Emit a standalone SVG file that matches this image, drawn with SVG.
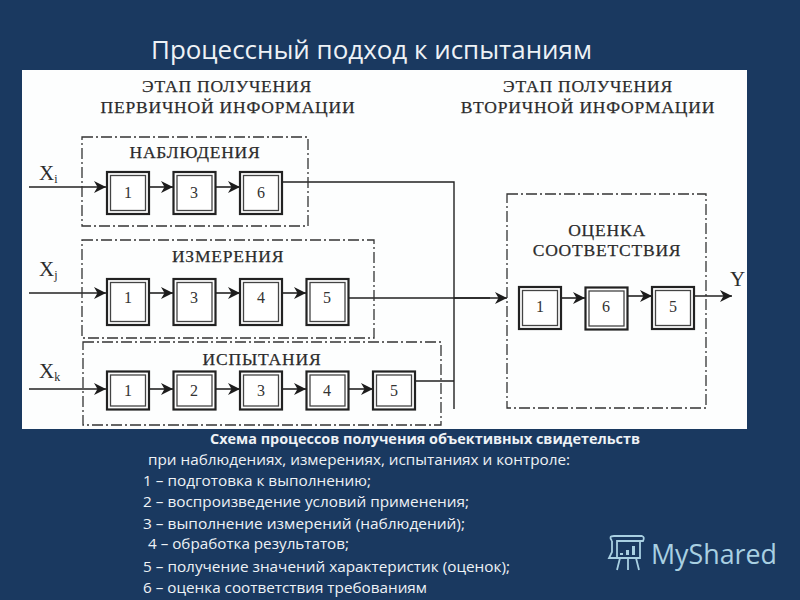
<svg xmlns="http://www.w3.org/2000/svg" width="800" height="600" viewBox="0 0 800 600">
<style>
.ser{font-family:"Liberation Serif","Noto Sans",serif;fill:#2c2c2c}
.h{font-size:17.5px;text-anchor:middle;letter-spacing:.8px;stroke:#2c2c2c;stroke-width:.25}
.n{font-size:16px;text-anchor:middle;fill:#333}
.x{font-size:21px}
.sub{font-size:12px}
.dash{fill:none;stroke:#333;stroke-width:1.3;stroke-dasharray:11 3 2 3}
.o{fill:#fff;stroke:#222;stroke-width:2.2}
.i{fill:#fff;stroke:#444;stroke-width:1.3}
.c{fill:none;stroke:#222;stroke-width:1.4}
.c2{fill:none;stroke:#222;stroke-width:1.6;marker-end:url(#a)}
.cap{font-family:"Open Sans","Noto Sans",sans-serif;font-size:14.6px;fill:#eef2f6}
.l{fill:none;stroke:#a9d0e2;stroke-width:1.8}
</style>
<defs>
<marker id="a" markerUnits="userSpaceOnUse" markerWidth="14" markerHeight="14" refX="13" refY="7" orient="auto">
<path d="M1 1 L13 7 L1 13 L4.500 7 Z" fill="#1c1c1c"/>
</marker>
<g id="box"><rect class="o" x="0" y="0" width="42" height="42"/><rect class="i" x="3.500" y="3.500" width="35" height="35"/></g>
<g id="tall"><rect class="o" x="0" y="0" width="42" height="46"/><rect class="i" x="3.500" y="3.500" width="35" height="39"/></g>
<g id="low"><rect class="o" x="0" y="0" width="42" height="38"/><rect class="i" x="3.500" y="3.500" width="35" height="31"/></g>
</defs>
<rect width="800" height="600" fill="#1a3960"/>
<text x="151" y="59" font-family="Open Sans,Noto Sans,sans-serif" font-size="25" fill="#eef2f6" textLength="441" lengthAdjust="spacingAndGlyphs">Процессный подход к испытаниям</text>
<rect x="22" y="70" width="725" height="359" fill="#fdfefe"/>
<text class="ser h" x="227" y="92">ЭТАП ПОЛУЧЕНИЯ</text>
<text class="ser h" x="228" y="113">ПЕРВИЧНОЙ ИНФОРМАЦИИ</text>
<text class="ser h" x="588" y="92">ЭТАП ПОЛУЧЕНИЯ</text>
<text class="ser h" x="588" y="113">ВТОРИЧНОЙ ИНФОРМАЦИИ</text>

<g id="connectors">
<path class="c" d="M283 182H454V409M348 298H490M416 381H454"/>
<path class="c2" d="M454 298H507"/>
<path class="c2" d="M29 187H106"/><path class="c2" d="M149 187H173"/><path class="c2" d="M216 187H240"/>
<path class="c2" d="M29 293H106"/><path class="c2" d="M149 293H173"/><path class="c2" d="M216 293H240"/><path class="c2" d="M283 293H306"/>
<path class="c2" d="M29 389H106"/><path class="c2" d="M149 389H173"/><path class="c2" d="M216 389H240"/><path class="c2" d="M283 389H306"/><path class="c2" d="M349 389H373"/>
<path class="c2" d="M561 298H585"/><path class="c2" d="M628 296H652"/><path class="c2" d="M694 296H732"/>
</g>

<g id="stage-observe">
<rect class="dash" x="82" y="137" width="226" height="89"/>
<text class="ser h" x="195" y="158">НАБЛЮДЕНИЯ</text>
<g id="o1"><use href="#box" x="107" y="172"/><text class="ser n" x="128" y="198">1</text></g>
<g id="o3"><use href="#box" x="173.500" y="172"/><text class="ser n" x="194" y="198">3</text></g>
<g id="o6"><use href="#box" x="240" y="172"/><text class="ser n" x="261" y="198">6</text></g>
</g>
<g id="stage-measure">
<rect class="dash" x="82" y="240" width="292" height="98"/>
<text class="ser h" x="228" y="262">ИЗМЕРЕНИЯ</text>
<g id="m1"><use href="#tall" x="107" y="279"/><text class="ser n" x="128" y="303">1</text></g>
<g id="m3"><use href="#tall" x="173.500" y="279"/><text class="ser n" x="194" y="303">3</text></g>
<g id="m4"><use href="#tall" x="240" y="279"/><text class="ser n" x="261" y="303">4</text></g>
<g id="m5"><use href="#tall" x="306.500" y="279"/><text class="ser n" x="327" y="303">5</text></g>
</g>
<g id="stage-test">
<rect class="dash" x="83" y="342" width="358" height="83"/>
<text class="ser h" x="262" y="365">ИСПЫТАНИЯ</text>
<g id="t1"><use href="#low" x="107" y="371.500"/><text class="ser n" x="128" y="396">1</text></g>
<g id="t2"><use href="#low" x="173.500" y="371.500"/><text class="ser n" x="194" y="396">2</text></g>
<g id="t3"><use href="#low" x="240" y="371.500"/><text class="ser n" x="261" y="396">3</text></g>
<g id="t4"><use href="#low" x="306.500" y="371.500"/><text class="ser n" x="327" y="396">4</text></g>
<g id="t5"><use href="#low" x="373" y="371.500"/><text class="ser n" x="394" y="396">5</text></g>
</g>
<g id="stage-assess">
<rect class="dash" x="507" y="194" width="199" height="214"/>
<text class="ser h" x="607" y="236">ОЦЕНКА</text>
<text class="ser h" x="607" y="256">СООТВЕТСТВИЯ</text>
<g id="a1"><use href="#box" x="519" y="287"/><text class="ser n" x="540" y="312">1</text></g>
<g id="a6"><use href="#box" x="585.500" y="287.500"/><text class="ser n" x="606" y="312">6</text></g>
<g id="a5"><use href="#box" x="652" y="287"/><text class="ser n" x="673" y="312">5</text></g>
</g>
<text class="ser x" x="39" y="180">X<tspan class="sub" dy="3">i</tspan></text>
<text class="ser x" x="39" y="276">X<tspan class="sub" dy="3">j</tspan></text>
<text class="ser x" x="39" y="378">X<tspan class="sub" dy="3">k</tspan></text>
<text class="ser x" x="730" y="286">Y</text>

<text class="cap" x="210" y="444" font-weight="bold" textLength="430" lengthAdjust="spacingAndGlyphs">Схема процессов получения объективных свидетельств</text>
<text class="cap" x="148" y="465" textLength="422" lengthAdjust="spacingAndGlyphs">при наблюдениях, измерениях, испытаниях и контроле:</text>
<text class="cap" x="143" y="486" textLength="228" lengthAdjust="spacingAndGlyphs">1 – подготовка к выполнению;</text>
<text class="cap" x="143" y="507" textLength="326" lengthAdjust="spacingAndGlyphs">2 – воспроизведение условий применения;</text>
<text class="cap" x="143" y="529" textLength="322" lengthAdjust="spacingAndGlyphs">3 – выполнение измерений (наблюдений);</text>
<text class="cap" x="148" y="549" textLength="201" lengthAdjust="spacingAndGlyphs">4 – обработка результатов;</text>
<text class="cap" x="143" y="572" textLength="367" lengthAdjust="spacingAndGlyphs">5 – получение значений характеристик (оценок);</text>
<text class="cap" x="143" y="593" textLength="284" lengthAdjust="spacingAndGlyphs">6 – оценка соответствия требованиям</text>

<g id="logo">
<path class="l" d="M612 541Q608 536 614 536H642Q645 537 643 541H617V558H640V541M612 541V552L609 558H617M620 558L617 570M628 559V570M636 558L639 570"/>
<path d="M620 553h3v2h-3zM626 550h3v5h-3zM632 546h3v9h-3z" fill="#a9d0e2"/>
<text x="651" y="564" font-family="Open Sans,Noto Sans,sans-serif" font-size="27" fill="#a9d0e2" textLength="126" lengthAdjust="spacingAndGlyphs">MyShared</text>
</g>
</svg>
